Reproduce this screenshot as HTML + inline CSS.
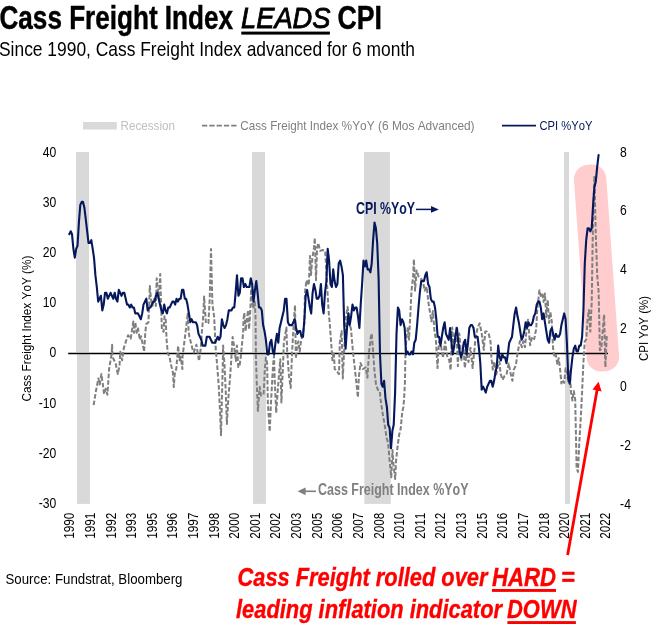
<!DOCTYPE html>
<html lang="en"><head><meta charset="utf-8"><title>Cass Freight Index LEADS CPI</title>
<style>html,body{margin:0;padding:0;background:#fff}svg{display:block}text{font-kerning:none}</style></head>
<body>
<svg width="663" height="638" viewBox="0 0 663 638" font-family="&quot;Liberation Sans&quot;, sans-serif">
<rect width="663" height="638" fill="#fff"/>
<text x="-0.5" y="29.1" font-size="32.5" font-weight="bold" textLength="233.5" lengthAdjust="spacingAndGlyphs" fill="#000" stroke="#000" stroke-width="0.45">Cass Freight Index</text>
<text x="241" y="28" font-size="30.3" font-style="italic" textLength="89.5" lengthAdjust="spacingAndGlyphs" fill="#000" stroke="#000" stroke-width="0.9">LEADS</text>
<rect x="241.3" y="31.6" width="88.6" height="3" fill="#000"/>
<text x="337.5" y="29.1" font-size="32.5" font-weight="bold" textLength="44.5" lengthAdjust="spacingAndGlyphs" fill="#000" stroke="#000" stroke-width="0.45">CPI</text>
<text x="-1" y="56.3" font-size="20.7" textLength="416" lengthAdjust="spacingAndGlyphs" fill="#000">Since 1990, Cass Freight Index advanced for 6 month</text>
<rect x="83" y="122" width="33.8" height="7.5" fill="#d9d9d9"/>
<text x="120.5" y="129.5" font-size="13.3" textLength="54.5" lengthAdjust="spacingAndGlyphs" fill="#bfbfbf">Recession</text>
<line x1="202" y1="125.7" x2="237" y2="125.7" stroke="#7f7f7f" stroke-width="1.8" stroke-dasharray="5.3 2"/>
<text x="240.3" y="129.7" font-size="13.3" fill="#7f7f7f"><tspan textLength="98" lengthAdjust="spacingAndGlyphs">Cass Freight Index</tspan><tspan x="341.6" textLength="133" lengthAdjust="spacingAndGlyphs">%YoY (6 Mos Advanced)</tspan></text>
<line x1="502" y1="125.7" x2="536" y2="125.7" stroke="#06185c" stroke-width="1.8"/>
<text x="539.5" y="129.7" font-size="13.3" textLength="53" lengthAdjust="spacingAndGlyphs" fill="#06185c">CPI %YoY</text>
<rect x="76" y="152" width="13.0" height="200.3" fill="#d9d9d9"/>
<rect x="77" y="354.2" width="13.0" height="149.7" fill="#d9d9d9"/>
<rect x="252" y="152" width="13.0" height="200.3" fill="#d9d9d9"/>
<rect x="253" y="354.2" width="13.0" height="149.7" fill="#d9d9d9"/>
<rect x="364" y="152" width="26.0" height="200.3" fill="#d9d9d9"/>
<rect x="364.3" y="354.2" width="26.5" height="149.7" fill="#d9d9d9"/>
<rect x="564" y="152" width="5.0" height="200.3" fill="#d9d9d9"/>
<rect x="565" y="354.2" width="5.0" height="149.7" fill="#d9d9d9"/>
<rect x="-16.2" y="-103.7" width="32.4" height="207.4" rx="14.5" ry="14.5" fill="#ffcdcd" transform="translate(596.5 268) rotate(-4.1)"/>
<line x1="68.2" y1="353.5" x2="608" y2="353.5" stroke="#000" stroke-width="1.3"/>
<polyline points="93.6,405.2 96.2,389.7 98.4,378.4 99.7,384.5 101.4,374.1 103.1,386.2 104.0,394.0 105.7,388.8 107.4,394.8 109.1,369.0 111.7,353.4 112.1,344.8 112.6,356.9 115.7,363.8 117.8,374.1 119.5,365.5 120.3,351.7 122.1,360.3 123.8,348.3 126.4,339.7 128.1,335.3 130.7,338.8 132.4,327.6 133.3,321.6 134.1,332.8 135.3,322.4 136.7,332.8 138.1,328.4 139.8,339.7 141.0,336.2 142.8,344.8 144.1,351.7 145.3,332.8 146.2,324.1 148.4,322.4 149.3,302.4 149.8,286.0 151.0,299.0 152.4,305.9 154.1,299.0 155.9,305.9 156.7,278.3 157.9,290.3 159.0,299.0 160.2,274.0 161.0,302.4 161.9,330.0 163.6,331.7 164.5,316.2 165.7,319.7 166.6,340.0 167.8,353.4 169.5,356.9 171.2,365.5 172.9,372.4 173.8,387.1 174.7,374.1 176.4,368.1 178.1,345.7 179.5,360.3 180.7,356.9 182.4,369.0 182.6,355.9 185.2,335.2 187.8,312.8 188.6,331.7 189.5,336.9 192.9,350.7 193.8,352.4 196.4,344.7 199.0,361.0 200.7,349.0 201.6,335.2 203.3,316.2 204.1,296.4 205.9,323.1 208.4,323.1 209.7,299.0 211.0,249.0 212.4,304.1 214.1,316.2 215.3,340.0 215.6,347.2 217.1,364.5 218.8,386.9 220.0,411.0 221.0,435.2 221.9,399.0 222.8,364.5 223.1,345.5 224.5,364.5 225.7,390.3 226.9,424.0 228.3,399.0 230.0,378.3 231.2,361.0 232.6,336.9 233.8,343.8 234.8,352.4 236.0,361.0 236.9,345.5 238.3,367.1 239.5,366.2 240.7,357.6 241.7,347.2 242.9,335.2 243.2,332.8 243.5,319.0 244.3,312.9 245.7,331.0 246.9,319.0 248.1,310.3 249.1,329.3 250.3,310.3 251.2,288.8 252.1,301.7 253.3,308.6 254.7,301.7 255.5,315.5 255.9,355.9 256.7,381.7 257.9,411.0 259.0,395.5 259.7,386.9 261.0,395.5 263.6,394.7 264.8,369.7 265.9,357.6 267.1,362.8 267.9,404.1 269.7,431.7 271.0,402.4 273.1,364.5 274.0,355.9 274.8,381.7 276.2,412.8 277.4,395.5 279.1,373.1 280.3,359.3 281.4,402.4 283.4,355.9 283.8,343.1 286.4,327.6 287.2,351.7 289.0,375.9 290.7,387.9 292.1,351.7 294.1,317.2 295.0,305.2 295.9,358.6 297.2,344.8 298.4,341.4 299.7,351.7 301.0,341.4 302.8,334.5 304.5,322.4 304.8,299.1 305.3,288.8 306.6,280.2 308.8,285.3 310.0,256.0 311.0,275.0 312.2,259.5 314.0,247.4 314.8,237.9 316.0,280.2 317.1,247.4 318.3,243.1 320.0,250.9 322.6,250.0 325.2,250.9 326.0,264.7 327.4,290.5 328.6,311.2 329.5,320.7 331.2,343.1 332.4,360.3 333.8,351.7 334.7,369.0 336.4,370.7 339.0,374.1 339.8,343.1 341.6,331.0 342.8,378.4 344.1,351.7 345.9,317.2 347.6,306.9 349.3,322.4 351.0,329.3 352.8,350.0 354.5,365.5 356.2,381.0 357.9,397.4 358.8,377.6 360.5,362.9 363.1,369.0 365.7,367.2 367.4,377.6 369.1,351.7 370.9,336.2 371.7,333.6 373.1,351.7 374.3,369.0 376.0,384.5 377.8,389.7 380.0,391.4 380.3,397.5 382.5,412.5 385.0,427.0 386.6,438.0 388.1,442.7 389.7,461.6 391.3,477.3 392.5,450.0 393.6,466.0 395.2,479.0 396.0,461.6 397.5,447.0 399.1,435.0 400.7,428.6 402.3,411.4 403.5,406.7 404.3,395.0 404.9,383.0 405.4,355.9 406.4,337.6 407.8,327.4 409.0,339.6 410.5,311.1 411.5,290.7 413.1,276.5 413.9,259.2 415.1,290.7 416.6,270.4 418.6,276.5 420.6,278.5 422.7,280.5 424.7,290.7 426.8,286.7 428.2,300.9 429.8,311.1 431.4,321.3 432.9,311.1 434.5,331.5 435.9,339.6 437.5,368.1 439.0,341.6 441.0,345.7 443.0,357.9 445.1,341.6 447.1,355.9 449.2,360.0 450.6,370.2 452.2,327.4 454.2,347.8 456.3,327.4 457.9,366.1 459.3,333.5 461.4,360.0 463.4,345.7 464.8,368.1 466.5,353.9 468.5,362.0 470.5,347.8 472.6,368.1 474.0,353.9 475.6,337.6 477.7,327.4 479.7,323.3 481.7,333.5 483.8,349.8 485.2,331.5 486.8,331.5 488.9,334.5 490.5,341.6 491.4,357.4 492.8,369.6 494.4,361.5 496.1,375.7 497.5,367.6 499.5,361.5 500.5,373.7 502.6,379.8 504.6,375.7 506.7,373.7 508.7,363.5 510.7,373.7 512.4,380.8 513.8,369.6 515.8,365.5 517.9,351.3 519.9,341.1 521.9,347.2 523.4,341.1 525.0,347.2 527.0,324.8 528.0,319.7 530.1,345.2 532.1,337.0 534.2,339.1 536.2,328.9 537.2,310.5 539.4,290.3 540.8,295.9 542.2,293.4 543.6,301.9 544.9,293.4 546.3,317.0 547.7,299.9 549.1,323.0 550.4,312.0 551.8,322.0 553.2,350.2 554.6,357.2 555.9,354.7 557.3,363.8 558.7,358.2 560.1,369.3 561.4,383.4 562.8,379.9 564.2,382.9 565.6,368.3 566.9,370.3 568.3,382.9 569.7,369.8 571.1,392.9 572.4,400.5 573.8,390.9 575.2,399.5 576.6,467.4 577.9,471.9 579.3,442.7 580.7,419.1 582.1,391.4 583.4,362.3 584.8,341.1 586.2,339.6 587.6,319.5 588.9,310.0 590.3,331.6 591.7,302.9 593.1,214.4 594.4,175.7 595.8,235.5 597.2,274.7 598.6,291.3 599.9,350.2 601.3,349.2 602.7,330.6 604.1,314.5 605.4,367.3 606.8,335.1" fill="none" stroke="#7f7f7f" stroke-width="2" stroke-dasharray="4.6 2" stroke-linejoin="round"/>
<polyline points="69.3,234.2 70.7,231.3 72.0,234.2 73.4,248.8 74.8,257.6 76.2,248.8 77.5,245.9 78.9,222.5 80.3,204.9 81.7,201.9 83.0,201.9 84.4,207.8 85.8,219.5 87.2,231.3 88.5,243.0 89.9,243.0 91.3,240.1 92.7,248.8 94.0,257.6 95.4,275.2 96.8,287.0 98.2,301.6 99.5,298.7 100.9,295.8 102.3,310.4 103.7,304.6 105.0,292.8 106.4,292.8 107.8,298.7 109.2,295.8 110.5,292.8 111.9,295.8 113.3,298.7 114.7,292.8 116.0,298.7 117.4,301.6 118.8,289.9 120.2,292.8 121.5,295.8 122.9,292.8 124.3,292.8 125.7,298.7 127.0,304.6 128.4,304.6 129.8,307.5 131.2,304.6 132.5,307.5 133.9,307.5 135.3,313.4 136.7,313.4 138.0,313.4 139.4,316.3 140.8,319.2 142.2,313.4 143.5,304.6 144.9,301.6 146.3,298.7 147.7,310.4 149.0,307.5 150.4,307.5 151.8,304.6 153.2,301.6 154.5,301.6 155.9,295.8 157.3,292.8 158.7,298.7 160.0,304.6 161.4,310.4 162.8,313.4 164.2,304.6 165.5,310.4 166.9,313.4 168.3,307.5 169.7,307.5 171.0,304.6 172.4,301.6 173.8,301.6 175.2,304.6 176.5,298.7 177.9,301.6 179.3,298.7 180.7,298.7 182.0,289.9 183.4,289.9 184.8,298.7 186.1,298.7 187.5,304.6 188.9,313.4 190.3,322.2 191.6,319.2 193.0,322.2 194.4,322.2 195.8,322.2 197.1,325.1 198.5,333.9 199.9,336.8 201.3,339.8 202.6,345.6 204.0,345.6 205.4,345.6 206.8,336.8 208.1,336.8 209.5,336.8 210.9,339.8 212.3,342.7 213.6,342.7 215.0,342.7 216.4,339.8 217.8,336.8 219.1,339.8 220.5,336.8 221.9,319.2 223.3,325.1 224.6,328.0 226.0,325.1 227.4,319.2 228.8,310.4 230.1,310.4 231.5,310.4 232.9,307.5 234.3,307.5 235.6,292.8 237.0,275.2 238.4,295.8 239.8,292.8 241.1,278.2 242.5,278.2 243.9,287.0 245.3,284.0 246.6,287.0 248.0,287.0 249.4,287.0 250.8,278.2 252.1,284.0 253.5,301.6 254.9,289.9 256.3,281.1 257.6,292.8 259.0,307.5 260.4,307.5 261.8,310.4 263.1,325.1 264.5,331.0 265.9,339.8 267.3,354.4 268.6,354.4 270.0,342.7 271.4,339.8 272.8,351.5 274.1,354.4 275.5,342.7 276.9,333.9 278.3,342.7 279.6,328.0 281.0,322.2 282.4,316.3 283.8,310.4 285.1,298.7 286.5,298.7 287.9,322.2 289.3,325.1 290.6,325.1 292.0,325.1 293.4,322.2 294.8,319.2 296.1,328.0 297.5,333.9 298.9,331.0 300.2,331.0 301.6,336.8 303.0,336.8 304.4,319.2 305.7,295.8 307.1,289.9 308.5,298.7 309.9,307.5 311.2,313.4 312.6,292.8 314.0,284.0 315.4,289.9 316.7,298.7 318.1,298.7 319.5,295.8 320.9,284.0 322.2,304.6 323.6,313.4 325.0,292.8 326.4,281.1 327.7,248.8 329.1,260.6 330.5,284.0 331.9,287.0 333.2,269.4 334.6,281.1 336.0,287.0 337.4,284.0 338.7,263.5 340.1,260.6 341.5,266.4 342.9,275.2 344.2,325.1 345.6,348.6 347.0,328.0 348.4,313.4 349.7,325.1 351.1,316.3 352.5,304.6 353.9,310.4 355.2,307.5 356.6,307.5 358.0,316.3 359.4,328.0 360.7,304.6 362.1,284.0 363.5,260.6 364.9,266.4 366.2,260.6 367.6,269.4 369.0,269.4 370.4,272.3 371.7,263.5 373.1,240.1 374.5,222.5 375.9,228.3 377.2,243.0 378.6,278.2 380.0,354.4 381.4,383.8 382.7,386.7 384.1,380.8 385.5,398.4 386.9,407.2 388.2,424.8 389.6,427.8 391.0,448.3 392.4,430.7 393.7,424.8 395.1,392.6 396.5,333.9 397.9,307.5 399.2,310.4 400.6,325.1 402.0,319.2 403.4,322.2 404.7,328.0 406.1,354.4 407.5,351.5 408.9,354.4 410.2,354.4 411.6,351.5 413.0,354.4 414.3,342.7 415.7,339.8 417.1,325.1 418.5,307.5 419.8,292.8 421.2,281.1 422.6,281.1 424.0,281.1 425.3,275.2 426.7,272.3 428.1,284.0 429.5,287.0 430.8,298.7 432.2,301.6 433.6,301.6 435.0,307.5 436.3,319.2 437.7,336.8 439.1,336.8 440.5,345.6 441.8,336.8 443.2,328.0 444.6,322.2 446.0,333.9 447.3,336.8 448.7,339.8 450.1,328.0 451.5,342.7 452.8,354.4 454.2,345.6 455.6,333.9 457.0,328.0 458.3,342.7 459.7,351.5 461.1,357.4 462.5,351.5 463.8,342.7 465.2,339.8 466.6,354.4 468.0,342.7 469.3,328.0 470.7,325.1 472.1,325.1 473.5,328.0 474.8,336.8 476.2,336.8 477.6,336.8 479.0,348.6 480.3,363.2 481.7,389.6 483.1,386.7 484.5,389.6 485.8,392.6 487.2,386.7 488.6,383.8 490.0,380.8 491.3,380.8 492.7,386.7 494.1,380.8 495.5,372.0 496.8,366.2 498.2,345.6 499.6,357.4 501.0,360.3 502.3,354.4 503.7,357.4 505.1,357.4 506.5,363.2 507.8,354.4 509.2,342.7 510.6,339.8 512.0,336.8 513.3,325.1 514.7,313.4 516.1,307.5 517.5,316.3 518.8,322.2 520.2,331.0 521.6,339.8 523.0,336.8 524.3,331.0 525.7,322.2 527.1,328.0 528.4,322.2 529.8,325.1 531.2,325.1 532.6,322.2 533.9,316.3 535.3,313.4 536.7,304.6 538.1,301.6 539.4,301.6 540.8,307.5 542.2,319.2 543.6,313.4 544.9,322.2 546.3,331.0 547.7,339.8 549.1,342.7 550.4,331.0 551.8,328.0 553.2,333.9 554.6,339.8 555.9,333.9 557.3,336.8 558.7,336.8 560.1,333.9 561.4,325.1 562.8,319.2 564.2,313.4 565.6,319.2 566.9,342.7 568.3,377.9 569.7,383.8 571.1,369.1 572.4,357.4 573.8,348.6 575.2,345.6 576.6,351.5 577.9,351.5 579.3,345.6 580.7,345.6 582.1,336.8 583.4,310.4 584.8,263.5 586.2,240.1 587.6,228.3 588.9,228.3 590.3,231.3 591.7,228.3 593.1,204.9 594.4,187.3 595.8,181.4 597.2,166.7 598.6,155.0" fill="none" stroke="#06185c" stroke-width="2.1" stroke-linejoin="round" stroke-linecap="round"/>
<text x="56.3" y="157.2" font-size="14.3" text-anchor="end" transform="translate(8.45 0) scale(0.85 1)" fill="#000">40</text>
<text x="56.3" y="207.3" font-size="14.3" text-anchor="end" transform="translate(8.45 0) scale(0.85 1)" fill="#000">30</text>
<text x="56.3" y="257.3" font-size="14.3" text-anchor="end" transform="translate(8.45 0) scale(0.85 1)" fill="#000">20</text>
<text x="56.3" y="307.4" font-size="14.3" text-anchor="end" transform="translate(8.45 0) scale(0.85 1)" fill="#000">10</text>
<text x="56.3" y="357.5" font-size="14.3" text-anchor="end" transform="translate(8.45 0) scale(0.85 1)" fill="#000">0</text>
<text x="56.3" y="407.6" font-size="14.3" text-anchor="end" transform="translate(8.45 0) scale(0.85 1)" fill="#000">-10</text>
<text x="56.3" y="457.6" font-size="14.3" text-anchor="end" transform="translate(8.45 0) scale(0.85 1)" fill="#000">-20</text>
<text x="56.3" y="507.7" font-size="14.3" text-anchor="end" transform="translate(8.45 0) scale(0.85 1)" fill="#000">-30</text>
<text x="620.1" y="156.8" font-size="14.3" transform="translate(93.02 0) scale(0.85 1)" fill="#000">8</text>
<text x="620.1" y="215.5" font-size="14.3" transform="translate(93.02 0) scale(0.85 1)" fill="#000">6</text>
<text x="620.1" y="274.1" font-size="14.3" transform="translate(93.02 0) scale(0.85 1)" fill="#000">4</text>
<text x="620.1" y="332.8" font-size="14.3" transform="translate(93.02 0) scale(0.85 1)" fill="#000">2</text>
<text x="620.1" y="391.5" font-size="14.3" transform="translate(93.02 0) scale(0.85 1)" fill="#000">0</text>
<text x="620.1" y="450.2" font-size="14.3" transform="translate(93.02 0) scale(0.85 1)" fill="#000">-2</text>
<text x="620.1" y="508.8" font-size="14.3" transform="translate(93.02 0) scale(0.85 1)" fill="#000">-4</text>
<text transform="translate(74.2 538.8) rotate(-90) scale(0.906 1.12)" font-size="13" fill="#000">1990</text>
<text transform="translate(94.9 538.8) rotate(-90) scale(0.906 1.12)" font-size="13" fill="#000">1991</text>
<text transform="translate(115.5 538.8) rotate(-90) scale(0.906 1.12)" font-size="13" fill="#000">1992</text>
<text transform="translate(136.1 538.8) rotate(-90) scale(0.906 1.12)" font-size="13" fill="#000">1993</text>
<text transform="translate(156.7 538.8) rotate(-90) scale(0.906 1.12)" font-size="13" fill="#000">1995</text>
<text transform="translate(177.3 538.8) rotate(-90) scale(0.906 1.12)" font-size="13" fill="#000">1996</text>
<text transform="translate(198.0 538.8) rotate(-90) scale(0.906 1.12)" font-size="13" fill="#000">1997</text>
<text transform="translate(218.6 538.8) rotate(-90) scale(0.906 1.12)" font-size="13" fill="#000">1998</text>
<text transform="translate(239.2 538.8) rotate(-90) scale(0.906 1.12)" font-size="13" fill="#000">2000</text>
<text transform="translate(259.8 538.8) rotate(-90) scale(0.906 1.12)" font-size="13" fill="#000">2001</text>
<text transform="translate(280.4 538.8) rotate(-90) scale(0.906 1.12)" font-size="13" fill="#000">2002</text>
<text transform="translate(301.1 538.8) rotate(-90) scale(0.906 1.12)" font-size="13" fill="#000">2003</text>
<text transform="translate(321.7 538.8) rotate(-90) scale(0.906 1.12)" font-size="13" fill="#000">2005</text>
<text transform="translate(342.3 538.8) rotate(-90) scale(0.906 1.12)" font-size="13" fill="#000">2006</text>
<text transform="translate(362.9 538.8) rotate(-90) scale(0.906 1.12)" font-size="13" fill="#000">2007</text>
<text transform="translate(383.5 538.8) rotate(-90) scale(0.906 1.12)" font-size="13" fill="#000">2008</text>
<text transform="translate(404.2 538.8) rotate(-90) scale(0.906 1.12)" font-size="13" fill="#000">2010</text>
<text transform="translate(424.8 538.8) rotate(-90) scale(0.906 1.12)" font-size="13" fill="#000">2011</text>
<text transform="translate(445.4 538.8) rotate(-90) scale(0.906 1.12)" font-size="13" fill="#000">2012</text>
<text transform="translate(466.0 538.8) rotate(-90) scale(0.906 1.12)" font-size="13" fill="#000">2013</text>
<text transform="translate(486.6 538.8) rotate(-90) scale(0.906 1.12)" font-size="13" fill="#000">2015</text>
<text transform="translate(507.3 538.8) rotate(-90) scale(0.906 1.12)" font-size="13" fill="#000">2016</text>
<text transform="translate(527.9 538.8) rotate(-90) scale(0.906 1.12)" font-size="13" fill="#000">2017</text>
<text transform="translate(548.5 538.8) rotate(-90) scale(0.906 1.12)" font-size="13" fill="#000">2018</text>
<text transform="translate(569.1 538.8) rotate(-90) scale(0.906 1.12)" font-size="13" fill="#000">2020</text>
<text transform="translate(589.8 538.8) rotate(-90) scale(0.906 1.12)" font-size="13" fill="#000">2021</text>
<text transform="translate(610.4 538.8) rotate(-90) scale(0.906 1.12)" font-size="13" fill="#000">2022</text>
<text transform="translate(31.3 401.6) rotate(-90)" font-size="13.5" textLength="146" lengthAdjust="spacingAndGlyphs" fill="#000">Cass Freight Index YoY (%)</text>
<text transform="translate(647.8 361) rotate(-90)" font-size="13.5" textLength="65" lengthAdjust="spacingAndGlyphs" fill="#000">CPI YoY (%)</text>
<text x="356" y="214.3" font-size="16.2" font-weight="bold" textLength="59" lengthAdjust="spacingAndGlyphs" fill="#06185c">CPI %YoY</text>
<line x1="416" y1="209.4" x2="433" y2="209.4" stroke="#06185c" stroke-width="1.5"/><path d="M431 206.1 L438.8 209.4 L431 212.7 Z" fill="#06185c"/>
<text x="318" y="494.9" font-size="16.8" font-weight="bold" textLength="150.5" lengthAdjust="spacingAndGlyphs" fill="#7f7f7f">Cass Freight Index %YoY</text>
<line x1="303" y1="491.3" x2="316" y2="491.3" stroke="#7f7f7f" stroke-width="1.6"/><path d="M305.6 487.4 L297.6 491.3 L305.6 495.2 Z" fill="#7f7f7f"/>
<line x1="567.6" y1="554.9" x2="597.2" y2="389.5" stroke="#ff0000" stroke-width="2.8"/><path d="M598.6 381.7 L601.6 391.4 L592.5 389.6 Z" fill="#ff0000"/>
<text x="5.5" y="584.3" font-size="14.8" textLength="177" lengthAdjust="spacingAndGlyphs" fill="#000">Source: Fundstrat, Bloomberg</text>
<text x="237.5" y="586.3" font-size="25.8" font-weight="bold" font-style="italic" lengthAdjust="spacingAndGlyphs" fill="#ff0000" stroke="#ff0000" stroke-width="0.35" textLength="250">Cass Freight rolled over</text>
<text x="492" y="586.3" font-size="25.8" font-weight="bold" font-style="italic" lengthAdjust="spacingAndGlyphs" fill="#ff0000" stroke="#ff0000" stroke-width="0.35" textLength="64">HARD</text>
<rect x="491.9" y="589" width="64.1" height="2.9" fill="#ff0000"/>
<text x="561" y="586.3" font-size="25.8" font-weight="bold" font-style="italic" lengthAdjust="spacingAndGlyphs" fill="#ff0000" stroke="#ff0000" stroke-width="0.35" textLength="13.8">=</text>
<text x="236" y="618.3" font-size="25.8" font-weight="bold" font-style="italic" lengthAdjust="spacingAndGlyphs" fill="#ff0000" stroke="#ff0000" stroke-width="0.35" textLength="266">leading inflation indicator</text>
<text x="507" y="618.3" font-size="25.8" font-weight="bold" font-style="italic" lengthAdjust="spacingAndGlyphs" fill="#ff0000" stroke="#ff0000" stroke-width="0.35" textLength="69.5">DOWN</text>
<rect x="507.4" y="621.1" width="68.5" height="2.9" fill="#ff0000"/>
</svg>
</body></html>
